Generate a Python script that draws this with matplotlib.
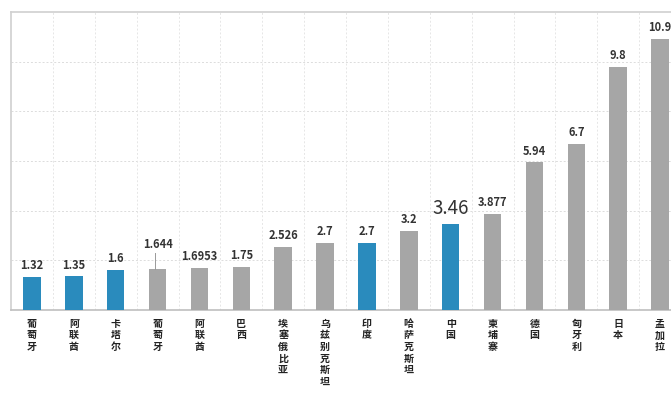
import matplotlib.pyplot as plt
import numpy as np

plt.rcParams['font.family'] = ['Noto Sans CJK SC', 'DejaVu Sans']

paises = ['葡萄牙', '阿联酋', '卡塔尔', '葡萄牙', '阿联酋', '巴西', '埃塞俄比亚',
          '乌兹别克斯坦', '印度', '哈萨克斯坦', '中国', '柬埔寨', '德国', '匈牙利',
          '日本', '孟加拉']
valores = [1.32, 1.35, 1.6, 1.644, 1.6953, 1.75, 2.526, 2.7, 2.7, 3.2, 3.46,
           3.877, 5.94, 6.7, 9.8, 10.9]
etiquetas = ['1.32', '1.35', '1.6', '1.644', '1.6953', '1.75', '2.526', '2.7',
             '2.7', '3.2', '3.46', '3.877', '5.94', '6.7', '9.8', '10.9']
azules = [0, 1, 2, 8, 10]

azul = '#2a8bbd'
gris = '#a6a6a6'
colores = [azul if i in azules else gris for i in range(len(valores))]

fig = plt.figure(figsize=(6.71, 3.96), dpi=100)
ax = fig.add_axes([11/671, 86/396, 670/671, 298/396])

x = np.arange(len(valores))
ax.bar(x, valores, width=0.42, color=colores, zorder=3)

ax.set_xlim(-0.5, len(valores) - 0.5)
ax.set_ylim(0, 12)

# rejilla punteada
for k in range(2, 12, 2):
    ax.axhline(k, color='#dcdcdc', lw=0.7, ls=(0, (2, 2)), zorder=1)
for k in range(len(valores) - 1):
    ax.axvline(k + 0.5, color='#e6e6e6', lw=0.7, ls=(0, (2, 2)), zorder=1)

for s in ['top', 'left', 'right']:
    ax.spines[s].set_color('#d0d0d0')
    ax.spines[s].set_linewidth(1.2)
ax.spines['bottom'].set_color('#bfbfbf')
ax.spines['bottom'].set_linewidth(1.2)
ax.set_xticks([])
ax.set_yticks([])

# valores sobre las barras
for i, (v, t) in enumerate(zip(valores, etiquetas)):
    if t == '3.46':
        ax.text(i, v + 0.2, t, ha='center', va='bottom', fontsize=13.5,
                color='#333333', zorder=4)
    elif t == '1.644':
        ax.plot([i - 0.05, i - 0.05], [v, v + 0.65], color='#999999', lw=0.7, zorder=4)
        ax.text(i, v + 0.75, t, ha='center', va='bottom', fontsize=8,
                fontweight='bold', color='#333333', zorder=4)
    else:
        ax.text(i, v + 0.2, t, ha='center', va='bottom', fontsize=8,
                fontweight='bold', color='#333333', zorder=4)

# nombres en vertical, un caracter por linea
for i, p in enumerate(paises):
    ax.text(i, -0.35, '\n'.join(p), ha='center', va='top', fontsize=7.2,
            fontweight='bold', color='#222222', linespacing=1.2,
            transform=ax.transData, clip_on=False)

fig.savefig('out.png', dpi=100)
